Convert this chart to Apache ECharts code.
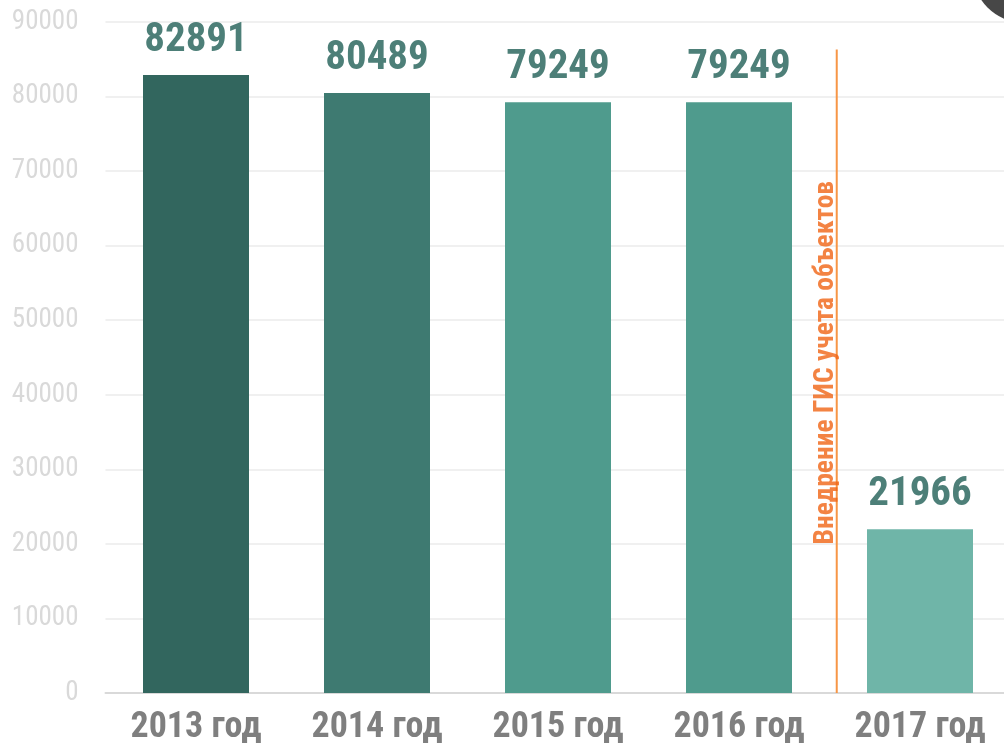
<!DOCTYPE html>
<html><head><meta charset="utf-8">
<script src="https://cdn.jsdelivr.net/npm/echarts@6/dist/echarts.min.js"></script>
<style>html,body{margin:0;padding:0;background:#fff;}#c{width:1004px;height:746px;}</style>
</head><body><div id="c"></div>
<script>
const categories = ['2013 год','2014 год','2015 год','2016 год','2017 год'];
const values = [82891, 80489, 79249, 79249, 21966];
const barColors = ['#32665E','#3E7A71','#4F9B8D','#4F9B8D','#6FB5A8'];
const yTicks = [0,10000,20000,30000,40000,50000,60000,70000,80000,90000];
const markerX = 3.54;          // position between 2016 and 2017 (in category units)
const markerTop = 86300;
const annotation = 'Внедрение ГИС учета объектов';
const annotationPos = [3.48, 44300];

const COND = '"Roboto Condensed","Open Sans Condensed",sans-serif';
const chart = echarts.init(document.getElementById('c'), null, {renderer:'canvas'});
chart.setOption({
  animation:false,
  backgroundColor:'#fff',
  grid:{left:105.5, top:22, width:905, height:671, containLabel:false, outerBoundsMode:'none'},
  xAxis:[{
    type:'category', data:categories,
    axisLine:{lineStyle:{color:'#D9D9D9', width:2}},
    axisTick:{show:false},
    axisLabel:{interval:0, color:'#7F7F7F', fontSize:36, fontWeight:'bold', fontFamily:COND, margin:17}
  },{
    type:'value', min:-0.5, max:4.5, show:false
  }],
  yAxis:{
    type:'value', min:yTicks[0], max:yTicks[yTicks.length-1], interval:yTicks[1]-yTicks[0],
    axisLine:{show:false}, axisTick:{show:false},
    axisLabel:{color:'#D9D9D9', fontSize:27, fontFamily:COND, margin:27, formatter:v=>String(v)},
    splitLine:{lineStyle:{color:'#F0F0F0', width:2}}
  },
  series:[{
    type:'bar', data:values.map((v,i)=>({value:v, itemStyle:{color:barColors[i]}})),
    barWidth:106,
    label:{show:true, position:'top', distance:14, color:'#4D7F78', fontSize:41, fontWeight:'bold', fontFamily:COND}
  },{
    type:'line', xAxisIndex:1, data:[[markerX,0],[markerX,markerTop]],
    symbol:'none', lineStyle:{color:'#F79646', width:2}, z:5
  },{
    type:'scatter', xAxisIndex:1, data:[annotationPos], symbolSize:0,
    label:{show:true, position:'inside', formatter:annotation, rotate:90, color:'#F06414', fontSize:27.5, fontWeight:'bold', fontFamily:COND}, z:6
  }],
  graphic:[{type:'circle', shape:{cx:1025, cy:-30, r:53}, style:{fill:'#474747'}}]
});
</script></body></html>
